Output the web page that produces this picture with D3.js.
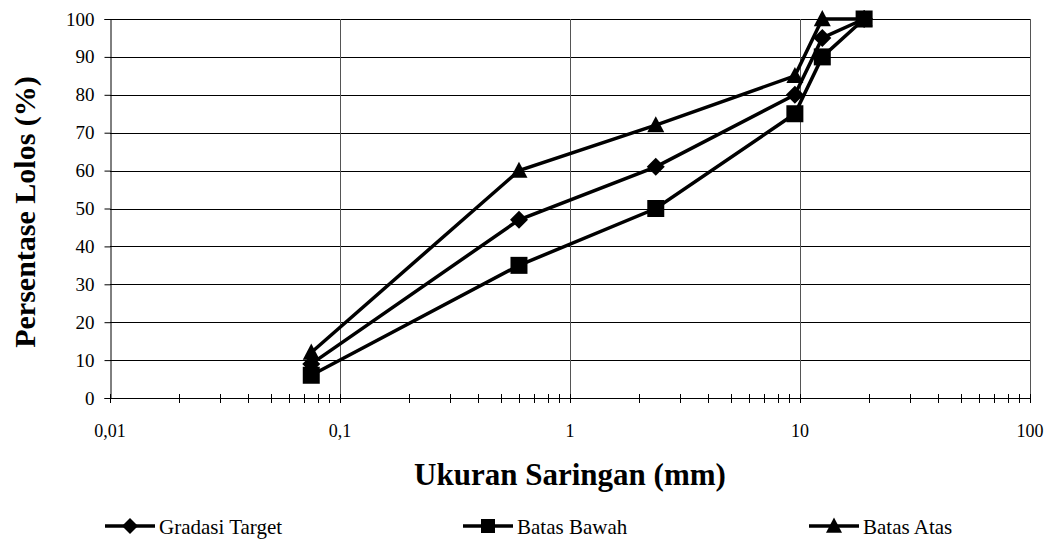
<!DOCTYPE html>
<html>
<head>
<meta charset="utf-8">
<script src="https://cdnjs.cloudflare.com/ajax/libs/d3/7.8.5/d3.min.js"></script>
</head>
<body style="margin:0">
<script>
var svgWidth = 1050;
var svgHeight = 541;
var serif = "Liberation Serif";

var margin = { top: 19, right: 20, bottom: 143, left: 110 };
var width = 1030 - margin.left;
var height = 398 - margin.top;

// sieve sizes (mm) and passing percentages
var sieveSizes = [0.075, 0.6, 2.36, 9.5, 12.5, 19];
var gradasiTarget = [9, 47, 61, 80, 95, 100];
var batasBawah = [6, 35, 50, 75, 90, 100];
var batasAtas = [12, 60, 72, 85, 100, 100];

var seriesNames = ["Gradasi Target", "Batas Bawah", "Batas Atas"];
var seriesValues = [gradasiTarget, batasBawah, batasAtas];

var xTicks = [0.01, 0.1, 1, 10, 100];
var xTickLabels = ["0,01", "0,1", "1", "10", "100"];
var yTicks = [0, 10, 20, 30, 40, 50, 60, 70, 80, 90, 100];

// marker path builders (half size r)
function markerPath(s, r) {
  if (s === 0) return `M0,${-r}L${r},0L0,${r}L${-r},0Z`;
  if (s === 1) return `M${-r},${-r}H${r}V${r}H${-r}Z`;
  return `M0,${-r * 1.05}L${r},${r * 0.85}H${-r}Z`;
}

var svg = d3.select("body")
  .append("svg")
  .attr("width", svgWidth)
  .attr("height", svgHeight)
  .attr("font-family", serif)
  .style("font-family", "'Liberation Serif'");

var chartGroup = svg.append("g")
  .attr("transform", `translate(${margin.left}, ${margin.top})`);

var xScale = d3.scaleLog().domain([0.01, 100]).range([0, width]);
var yScale = d3.scaleLinear().domain([0, 100]).range([height, 0]);

// horizontal gridlines
chartGroup.append("g")
  .selectAll("line")
  .data(yTicks.filter(d => d > 0))
  .enter()
  .append("line")
  .attr("x1", 0)
  .attr("x2", width)
  .attr("y1", d => Math.round(yScale(d)) + 0.5)
  .attr("y2", d => Math.round(yScale(d)) + 0.5)
  .attr("stroke", "#000")
  .attr("stroke-width", 1);

// vertical gridlines at decades
chartGroup.append("g")
  .selectAll("line")
  .data(xTicks.slice(1))
  .enter()
  .append("line")
  .attr("x1", d => Math.round(xScale(d)) + 0.5)
  .attr("x2", d => Math.round(xScale(d)) + 0.5)
  .attr("y1", 0)
  .attr("y2", height)
  .attr("stroke", "#555")
  .attr("stroke-width", 1);

// minor ticks on x axis (2..9 each decade)
var minorTicks = [];
for (var dec = 0.01; dec < 100; dec *= 10) {
  for (var m = 2; m <= 9; m++) minorTicks.push(+(dec * m).toPrecision(3));
}

var xAxis = chartGroup.append("g")
  .attr("transform", `translate(0, ${height})`);
xAxis.append("line")
  .attr("x1", 0).attr("x2", width)
  .attr("y1", 0.5).attr("y2", 0.5)
  .attr("stroke", "#000");
xAxis.selectAll(".minor")
  .data(minorTicks.concat(xTicks))
  .enter()
  .append("line")
  .attr("x1", d => Math.round(xScale(d)) + 0.5)
  .attr("x2", d => Math.round(xScale(d)) + 0.5)
  .attr("y1", -4)
  .attr("y2", 5)
  .attr("stroke", "#000");
xAxis.selectAll("text")
  .data(xTicks)
  .enter()
  .append("text")
  .attr("x", d => xScale(d))
  .attr("y", 39)
  .attr("text-anchor", "middle")
  .attr("font-family", serif)
  .attr("font-size", 18)
  .text((d, i) => xTickLabels[i]);

// y axis
var leftAxis = d3.axisLeft(yScale).tickValues(yTicks).tickSize(6).tickPadding(10);
var yAxis = chartGroup.append("g")
  .attr("transform", "translate(0.5, 0)")
  .call(leftAxis)
  .attr("font-family", serif)
  .attr("font-size", 19);
yAxis.select(".domain").attr("stroke", "#000");
yAxis.selectAll(".tick line").attr("stroke", "#000");
yAxis.selectAll(".tick text")
  .attr("font-family", serif)
  .attr("fill", "#000");

// lines and markers
var line = d3.line()
  .x((d, i) => xScale(sieveSizes[i]))
  .y(d => yScale(d));

seriesValues.forEach(function(values, s) {
  chartGroup.append("path")
    .datum(values)
    .attr("d", line)
    .attr("fill", "none")
    .attr("stroke", "#000")
    .attr("stroke-width", 3.5);
});

seriesValues.forEach(function(values, s) {
  chartGroup.selectAll(".mk" + s)
    .data(values)
    .enter()
    .append("path")
    .attr("d", markerPath(s, s === 0 ? 9 : 8.5))
    .attr("transform", (d, i) => `translate(${xScale(sieveSizes[i])}, ${yScale(d)})`)
    .attr("fill", "#000");
});

// axis titles
svg.append("text")
  .attr("x", 570)
  .attr("y", 485)
  .attr("text-anchor", "middle")
  .attr("font-family", serif)
  .attr("font-size", 31)
  .attr("font-weight", "bold")
  .text("Ukuran Saringan (mm)");

svg.append("text")
  .attr("transform", "translate(35, 212) rotate(-90)")
  .attr("text-anchor", "middle")
  .attr("font-family", serif)
  .attr("font-size", 30)
  .attr("font-weight", "bold")
  .text("Persentase Lolos (%)");

// legend
var legendX = [105, 463, 809];
var legend = svg.append("g");
seriesNames.forEach(function(name, s) {
  var g = legend.append("g").attr("transform", `translate(${legendX[s]}, 526)`);
  g.append("line")
    .attr("x1", 0).attr("x2", 50)
    .attr("y1", 0).attr("y2", 0)
    .attr("stroke", "#000")
    .attr("stroke-width", 3.5);
  g.append("path")
    .attr("d", markerPath(s, s === 1 ? 7 : 8))
    .attr("transform", "translate(25, 0)")
    .attr("fill", "#000");
  g.append("text")
    .attr("x", 54)
    .attr("y", 8)
    .attr("font-family", serif)
    .attr("font-size", 21)
    .text(name);
});
</script>
</body>
</html>
